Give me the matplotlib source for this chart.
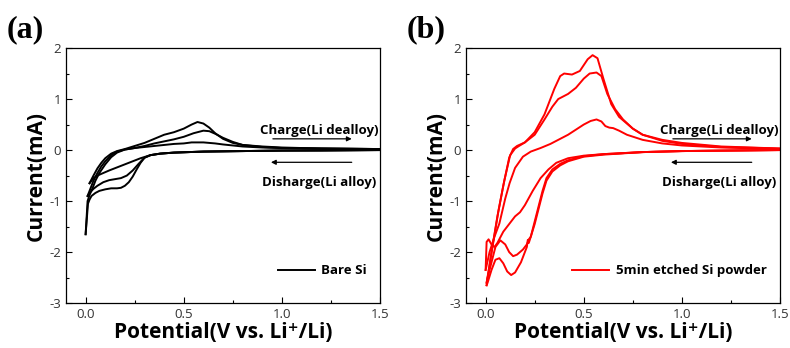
# CV curves: bare Si vs 5 min etched Si powder
import matplotlib
matplotlib.use("Agg")
import matplotlib.pyplot as plt
from matplotlib.ticker import MultipleLocator

plt.rcParams['font.family'] = ['Open Sans', 'DejaVu Sans']
plt.rcParams['axes.unicode_minus'] = False

# ---- panel (a): bare Si, three cycles (cathodic scan then anodic scan)
a_cath1_x = [1.5, 1.2, 1.0, 0.8, 0.6, 0.45, 0.38, 0.33, 0.3, 0.28, 0.26, 0.24, 0.22, 0.2, 0.18, 0.16, 0.13, 0.1, 0.07, 0.05, 0.03, 0.02, 0.012, 0.005, 0.0]
a_cath1_y = [0.0, -0.01, -0.01, -0.02, -0.03, -0.05, -0.07, -0.1, -0.15, -0.25, -0.38, -0.52, -0.63, -0.7, -0.74, -0.75, -0.75, -0.77, -0.8, -0.84, -0.9, -0.97, -1.05, -1.4, -1.65]
a_an1_x = [0.0, 0.01, 0.02, 0.035, 0.05, 0.07, 0.1, 0.13, 0.16, 0.2, 0.25, 0.3, 0.35, 0.4, 0.45, 0.5, 0.54, 0.57, 0.6, 0.63, 0.66, 0.7, 0.75, 0.8, 0.9, 1.0, 1.2, 1.5]
a_an1_y = [-1.65, -1.0, -0.88, -0.75, -0.6, -0.45, -0.28, -0.14, -0.05, 0.01, 0.04, 0.06, 0.08, 0.1, 0.12, 0.13, 0.15, 0.15, 0.15, 0.14, 0.13, 0.11, 0.09, 0.07, 0.05, 0.04, 0.03, 0.02]
a_cath2_x = [1.5, 1.0, 0.8, 0.6, 0.45, 0.38, 0.33, 0.3, 0.27, 0.24, 0.21, 0.18, 0.15, 0.12, 0.09, 0.06, 0.04, 0.02, 0.01]
a_cath2_y = [0.0, -0.01, -0.02, -0.03, -0.05, -0.07, -0.1, -0.15, -0.27, -0.4, -0.5, -0.55, -0.57, -0.59, -0.63, -0.7, -0.76, -0.84, -0.9]
a_an2_x = [0.01, 0.02, 0.04, 0.06, 0.08, 0.1, 0.13, 0.16, 0.2, 0.25, 0.3, 0.35, 0.4, 0.45, 0.5, 0.55, 0.6, 0.63, 0.66, 0.7, 0.75, 0.8, 0.9, 1.0, 1.2, 1.5]
a_an2_y = [-0.9, -0.8, -0.6, -0.45, -0.32, -0.22, -0.1, -0.03, 0.01, 0.04, 0.08, 0.13, 0.17, 0.21, 0.26, 0.33, 0.38, 0.37, 0.32, 0.24, 0.16, 0.1, 0.06, 0.04, 0.03, 0.02]
a_cath3_x = [1.5, 1.0, 0.8, 0.6, 0.45, 0.38, 0.33, 0.28, 0.24, 0.2, 0.16, 0.12, 0.09, 0.06, 0.04, 0.02]
a_cath3_y = [0.0, -0.01, -0.02, -0.03, -0.05, -0.07, -0.1, -0.16, -0.22, -0.28, -0.34, -0.4, -0.45, -0.5, -0.55, -0.65]
a_an3_x = [0.02, 0.04, 0.06, 0.08, 0.1, 0.13, 0.16, 0.2, 0.25, 0.3, 0.35, 0.4, 0.45, 0.5, 0.54, 0.57, 0.6, 0.63, 0.66, 0.7, 0.75, 0.8, 0.9, 1.0, 1.2, 1.5]
a_an3_y = [-0.65, -0.5, -0.36, -0.25, -0.16, -0.07, -0.02, 0.02, 0.08, 0.14, 0.22, 0.3, 0.35, 0.42, 0.5, 0.55, 0.52, 0.44, 0.33, 0.22, 0.14, 0.1, 0.07, 0.05, 0.03, 0.02]

# ---- panel (b): 5 min etched Si powder
b_cath1_x = [1.5, 1.2, 1.0, 0.8, 0.6, 0.5, 0.42, 0.38, 0.34, 0.31, 0.29, 0.27, 0.25, 0.23, 0.22, 0.215, 0.21, 0.18, 0.15, 0.13, 0.11, 0.09, 0.07, 0.05, 0.03, 0.01, 0.005]
b_cath1_y = [0.0, -0.01, -0.02, -0.04, -0.08, -0.12, -0.2, -0.27, -0.38, -0.55, -0.8, -1.1, -1.4, -1.7, -1.82, -1.76, -1.9, -2.2, -2.4, -2.45, -2.38, -2.22, -2.12, -2.15, -2.35, -2.6, -2.65]
b_an1_x = [0.005, 0.03, 0.06, 0.09, 0.12, 0.14, 0.16, 0.2, 0.25, 0.3, 0.35, 0.38, 0.4, 0.44, 0.48, 0.52, 0.545, 0.57, 0.6, 0.64, 0.68, 0.75, 0.8, 0.9, 1.0, 1.2, 1.5]
b_an1_y = [-2.65, -2.0, -1.3, -0.7, -0.15, 0.02, 0.08, 0.15, 0.35, 0.7, 1.2, 1.45, 1.5, 1.48, 1.55, 1.78, 1.86, 1.8, 1.4, 0.9, 0.65, 0.42, 0.3, 0.2, 0.14, 0.07, 0.03]
b_cath2_x = [1.5, 1.0, 0.8, 0.6, 0.5, 0.42, 0.38, 0.34, 0.31, 0.29, 0.27, 0.25, 0.23, 0.22, 0.21, 0.19, 0.16, 0.14, 0.12, 0.1, 0.075, 0.05, 0.03, 0.01, 0.005]
b_cath2_y = [0.0, -0.02, -0.04, -0.09, -0.13, -0.22, -0.3, -0.42, -0.6, -0.85, -1.15, -1.45, -1.7, -1.75, -1.85, -1.95, -2.05, -2.08, -2.0, -1.85, -1.77, -1.9, -2.2, -2.5, -2.6]
b_an2_x = [0.005, 0.035, 0.065, 0.095, 0.125, 0.15, 0.17, 0.2, 0.25, 0.3, 0.34, 0.37, 0.42, 0.46, 0.5, 0.53, 0.565, 0.59, 0.62, 0.66, 0.7, 0.75, 0.8, 0.9, 1.0, 1.2, 1.5]
b_an2_y = [-2.6, -1.9, -1.2, -0.6, -0.1, 0.03, 0.08, 0.15, 0.3, 0.6, 0.85, 1.0, 1.1, 1.22, 1.4, 1.5, 1.52, 1.45, 1.1, 0.8, 0.6, 0.42, 0.3, 0.18, 0.12, 0.06, 0.03]
b_cath3_x = [1.5, 1.0, 0.8, 0.6, 0.5, 0.42, 0.36, 0.32, 0.28, 0.24, 0.2, 0.175, 0.15, 0.12, 0.09, 0.06, 0.045, 0.03, 0.015, 0.005, 0.0]
b_cath3_y = [0.0, -0.02, -0.04, -0.08, -0.11, -0.16, -0.25, -0.38, -0.55, -0.8, -1.08, -1.22, -1.3, -1.45, -1.6, -1.82, -1.9, -1.85, -1.75, -1.8, -2.35]
b_an3_x = [0.0, 0.02, 0.045, 0.07, 0.1, 0.122, 0.15, 0.19, 0.23, 0.28, 0.33, 0.37, 0.42, 0.46, 0.5, 0.535, 0.565, 0.59, 0.61, 0.63, 0.65, 0.68, 0.72, 0.8, 0.9, 1.0, 1.2, 1.5]
b_an3_y = [-2.35, -2.0, -1.7, -1.44, -0.95, -0.65, -0.35, -0.13, -0.03, 0.04, 0.12, 0.2, 0.3, 0.4, 0.5, 0.57, 0.6, 0.56, 0.47, 0.44, 0.43, 0.38, 0.3, 0.2, 0.13, 0.09, 0.05, 0.02]

tick_x = [0.0, 0.5, 1.0, 1.5]
tick_y = [-3, -2, -1, 0, 1, 2]

panels = [
    ("(a)", "black", "Bare Si",
     [(a_cath1_x, a_cath1_y), (a_an1_x, a_an1_y), (a_cath2_x, a_cath2_y),
      (a_an2_x, a_an2_y), (a_cath3_x, a_cath3_y), (a_an3_x, a_an3_y)]),
    ("(b)", "#ff0000", "5min etched Si powder",
     [(b_cath1_x, b_cath1_y), (b_an1_x, b_an1_y), (b_cath2_x, b_cath2_y),
      (b_an2_x, b_an2_y), (b_cath3_x, b_cath3_y), (b_an3_x, b_an3_y)]),
]

fig = plt.figure(figsize=(7.9, 3.48), dpi=100)
lefts = [66 / 790, 466 / 790]

for (tag, col, name, curves), left in zip(panels, lefts):
    ax = fig.add_axes([left, 0.129, 0.3975, 0.733])
    for i, (xs, ys) in enumerate(curves):
        ax.plot(xs, ys, color=col, lw=1.4, solid_joinstyle='round',
                label=name if i == 0 else None)

    ax.set_xlim(-0.1, 1.5)
    ax.set_ylim(-3, 2)
    ax.set_xticks(tick_x)
    ax.set_xticklabels([f"{t:.1f}" for t in tick_x])
    ax.set_yticks(tick_y)
    ax.xaxis.set_minor_locator(MultipleLocator(0.25))
    ax.yaxis.set_minor_locator(MultipleLocator(0.5))
    ax.tick_params(which='both', direction='in', top=False, right=False,
                   labelsize=9.5, labelcolor='#333333', width=0.8)
    ax.tick_params(which='major', length=4)
    ax.tick_params(which='minor', length=2.5)
    for sp in ax.spines.values():
        sp.set_linewidth(0.9)

    ax.set_xlabel("Potential(V vs. Li⁺/Li)", fontsize=15, fontweight='bold', labelpad=1)
    ax.set_ylabel("Current(mA)", fontsize=15, fontweight='bold', labelpad=2)

    # scan direction notes
    ax.annotate("", xy=(1.37, 0.22), xytext=(0.94, 0.22),
                arrowprops=dict(arrowstyle='-|>', color='black', lw=0.9,
                                mutation_scale=7))
    ax.text(1.19, 0.39, "Charge(Li dealloy)", ha='center', va='center',
            fontsize=9.5, fontweight='bold')
    ax.annotate("", xy=(0.93, -0.24), xytext=(1.37, -0.24),
                arrowprops=dict(arrowstyle='-|>', color='black', lw=0.9,
                                mutation_scale=7))
    ax.text(1.19, -0.63, "Disharge(Li alloy)", ha='center', va='center',
            fontsize=9.5, fontweight='bold')

    leg = ax.legend(loc='lower right', frameon=False, fontsize=9.5,
                    handlelength=2.8, handletextpad=0.5,
                    borderaxespad=0.6, bbox_to_anchor=(1.0, 0.05))
    for t in leg.get_texts():
        t.set_fontweight('bold')

    fig.text(left - 0.075, 0.955, tag, fontsize=23, fontweight='bold',
             family=['Liberation Serif', 'DejaVu Serif'], va='top', ha='left')

fig.savefig("out.png", dpi=100)
